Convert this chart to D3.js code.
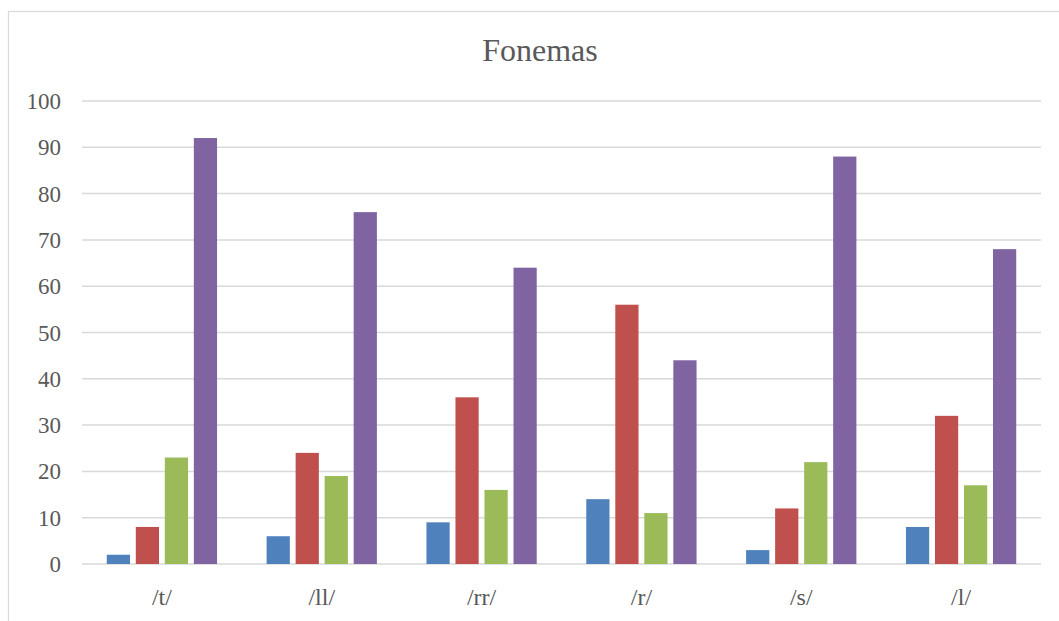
<!DOCTYPE html>
<html>
<head>
<meta charset="utf-8">
<script src="https://cdn.jsdelivr.net/npm/d3@7"></script>
<style>
  body { margin: 0; background: #fff; }
  svg text { font-family: "Liberation Serif", "Times New Roman", serif; }
</style>
</head>
<body>
<div id="chart"></div>
<script>
var categories = ["/t/", "/ll/", "/rr/", "/r/", "/s/", "/l/"];
var seriesNames = ["Serie 1", "Serie 2", "Serie 3", "Serie 4"];
var serie1 = [2, 6, 9, 14, 3, 8];
var serie2 = [8, 24, 36, 56, 12, 32];
var serie3 = [23, 19, 16, 11, 22, 17];
var serie4 = [92, 76, 64, 44, 88, 68];
var yTicks = [0, 10, 20, 30, 40, 50, 60, 70, 80, 90, 100];
var colors = ["#4f81bd", "#c0504d", "#9bbb59", "#8064a2"];

var width = 1059, height = 621;
var plotLeft = 82, plotRight = 1041, plotTop = 101, plotBottom = 564;

var series = [serie1, serie2, serie3, serie4];
var rows = categories.map(function(c, i) {
    return { cat: c, values: series.map(function(s, j) { return { key: j, value: s[i] }; }) };
});

var svg = d3.select("#chart").append("svg")
    .attr("width", width)
    .attr("height", height);

// outer frame (right and bottom edges fall outside the view)
svg.append("rect")
    .attr("x", 8.5).attr("y", 11.5)
    .attr("width", 1100).attr("height", 700)
    .attr("fill", "none")
    .attr("stroke", "#d9d9d9")
    .attr("stroke-width", 1.2);

var x0 = d3.scaleBand().domain(categories).range([plotLeft, plotRight])
    .paddingInner(0.31).paddingOuter(0.155);
var x1 = d3.scaleBand().domain(d3.range(4)).range([0, x0.bandwidth()])
    .paddingInner(0.2);
var y = d3.scaleLinear().domain([0, 100]).range([plotBottom, plotTop]);

// gridlines
svg.append("g").selectAll("line")
    .data(yTicks)
    .enter().append("line")
    .attr("x1", plotLeft).attr("x2", plotRight)
    .attr("y1", function(d) { return y(d); })
    .attr("y2", function(d) { return y(d); })
    .attr("stroke", "#d9d9d9")
    .attr("stroke-width", 1.5);

// y tick labels
svg.append("g").selectAll("text")
    .data(yTicks)
    .enter().append("text")
    .attr("x", 61)
    .attr("y", function(d) { return y(d); })
    .attr("dy", "0.35em")
    .attr("text-anchor", "end")
    .attr("fill", "#595959")
    .style("font-size", "23px")
    .text(function(d) { return d; });

// bars
var groups = svg.append("g").selectAll("g")
    .data(rows)
    .enter().append("g")
    .attr("transform", function(d) { return "translate(" + x0(d.cat) + ",0)"; });

groups.selectAll("rect")
    .data(function(d) { return d.values; })
    .enter().append("rect")
    .attr("x", function(d) { return x1(d.key); })
    .attr("width", x1.bandwidth())
    .attr("y", function(d) { return y(d.value); })
    .attr("height", function(d) { return y(0) - y(d.value); })
    .attr("fill", function(d) { return colors[d.key]; });

// category labels
svg.append("g").selectAll("text")
    .data(categories)
    .enter().append("text")
    .attr("x", function(d) { return x0(d) + x0.bandwidth() / 2; })
    .attr("y", 605)
    .attr("text-anchor", "middle")
    .attr("fill", "#595959")
    .style("font-size", "24px")
    .text(function(d) { return d; });

// title
svg.append("text")
    .attr("x", 540)
    .attr("y", 61)
    .attr("text-anchor", "middle")
    .attr("fill", "#595959")
    .style("font-size", "32px")
    .text("Fonemas");
</script>
</body>
</html>
